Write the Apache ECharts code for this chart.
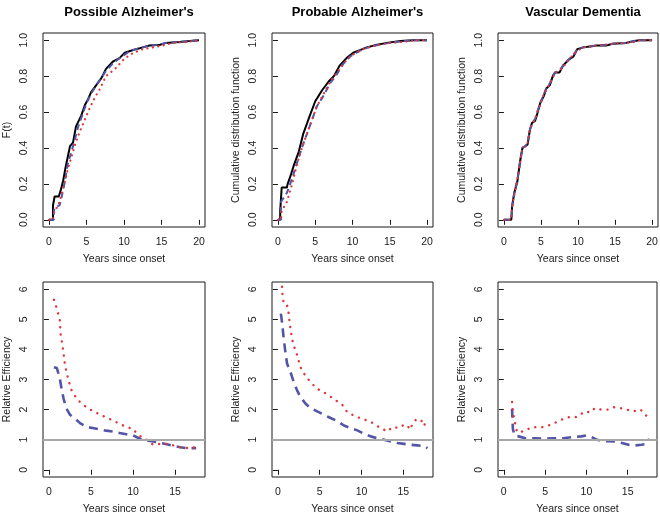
<!DOCTYPE html>
<html>
<head>
<meta charset="utf-8">
<script src="https://cdn.jsdelivr.net/npm/echarts@6/dist/echarts.min.js"></script>
<style>html,body{margin:0;padding:0;background:#fff}#c{width:660px;height:516px}</style>
</head>
<body>
<div id="c"></div>
<script>
// ---------- data ----------
const panelTitles = ["Possible Alzheimer's", "Probable Alzheimer's", "Vascular Dementia"];
const topYNames = ["F(t)", "Cumulative distribution function", "Cumulative distribution function"];
const bottomYName = "Relative Efficiency";
const xName = "Years since onset";
const topXTicks = [0, 5, 10, 15, 20];
const topYTicks = [0, 0.2, 0.4, 0.6, 0.8, 1.0];
const botXTicks = [0, 5, 10, 15];
const botYTicks = [0, 1, 2, 3, 4, 5, 6];
const refLine = 1;

// Possible Alzheimer's - CDF
const possBlack = [[0,0],[0.53,0],[0.53,0.08],[0.75,0.08],[0.75,0.13],[1.3,0.13],[1.6,0.17],[1.9,0.22],[2.2,0.29],[2.5,0.35],[2.8,0.41],[3.2,0.43],[3.6,0.52],[4.3,0.58],[4.8,0.64],[5.2,0.67],[5.6,0.71],[6.3,0.75],[7.0,0.79],[7.6,0.84],[8.5,0.88],[9.4,0.90],[10.1,0.93],[10.8,0.94],[11.6,0.95],[12.5,0.96],[13.4,0.97],[14.8,0.975],[15.6,0.985],[17.4,0.99],[18.8,0.995],[20,1.0]];
const possBlue = [[0,0],[0.65,0],[0.65,0.05],[0.8,0.07],[1.4,0.08],[1.6,0.11],[2.1,0.21],[2.5,0.31],[3.0,0.38],[3.4,0.44],[3.9,0.52],[4.5,0.59],[5.0,0.65],[5.6,0.70],[6.3,0.75],[7.0,0.79],[7.6,0.83],[8.5,0.87],[9.4,0.90],[10.1,0.92],[10.8,0.94],[11.6,0.95],[12.5,0.96],[13.4,0.97],[14.8,0.975],[15.6,0.985],[17.4,0.99],[18.8,0.995],[20,1.0]];
const possRed = [[0,0],[0.5,0],[0.75,0.055],[1.2,0.075],[1.6,0.13],[2.1,0.21],[2.5,0.28],[3.0,0.35],[3.4,0.41],[4.1,0.49],[4.8,0.56],[5.4,0.62],[6.1,0.68],[6.8,0.73],[7.6,0.80],[8.8,0.84],[9.9,0.89],[10.8,0.92],[11.6,0.935],[12.5,0.95],[13.9,0.96],[15.2,0.97],[16.5,0.985],[18.3,0.99],[20,1.0]];

// Probable Alzheimer's - CDF
const probBlack = [[0,0],[0.3,0],[0.3,0.05],[0.5,0.05],[0.5,0.18],[1.2,0.18],[1.3,0.20],[1.65,0.24],[2.1,0.30],[2.8,0.38],[3.4,0.48],[4.1,0.56],[5.0,0.66],[5.9,0.72],[6.8,0.77],[7.5,0.80],[8.3,0.86],[9.2,0.90],[10.1,0.93],[11.0,0.945],[11.9,0.96],[13.3,0.975],[14.6,0.985],[16.4,0.995],[18.2,1.0],[20,1.0]];
const probBlue = [[0,0],[0.4,0],[0.4,0.10],[1.2,0.15],[1.9,0.23],[2.5,0.31],[3.2,0.40],[3.9,0.48],[4.6,0.56],[5.2,0.63],[6.1,0.69],[7.0,0.76],[7.9,0.81],[8.8,0.87],[9.7,0.91],[10.5,0.93],[11.4,0.95],[12.5,0.965],[13.6,0.975],[15.0,0.985],[16.8,0.995],[18.5,1.0],[20,1.0]];
const probRed = [[0,0],[0.4,0],[0.5,0.05],[1.2,0.10],[1.9,0.20],[2.5,0.30],[3.2,0.40],[3.9,0.48],[4.6,0.56],[5.2,0.63],[6.1,0.70],[7.0,0.77],[7.9,0.82],[8.8,0.87],[9.7,0.91],[10.5,0.93],[11.4,0.95],[12.5,0.965],[13.6,0.975],[15.0,0.985],[16.8,0.99],[18.5,1.0],[20,1.0]];

// Vascular Dementia - CDF
const vascBlack = [[0,0],[1.0,0],[1.1,0.075],[1.4,0.15],[1.8,0.21],[2.2,0.33],[2.5,0.40],[2.9,0.41],[3.2,0.42],[3.5,0.50],[3.8,0.54],[4.2,0.55],[4.5,0.59],[4.9,0.65],[5.4,0.69],[5.7,0.73],[6.2,0.75],[6.6,0.80],[6.9,0.82],[7.5,0.82],[8.0,0.86],[8.7,0.89],[9.4,0.91],[9.9,0.95],[10.7,0.96],[11.6,0.965],[12.5,0.97],[13.8,0.97],[14.7,0.98],[16.5,0.985],[17.6,0.995],[18.3,1.0],[20,1.0]];
const vascBlue = [[0,0],[1.0,0],[1.1,0.07],[1.4,0.15],[1.8,0.22],[2.2,0.33],[2.5,0.40],[2.9,0.41],[3.2,0.43],[3.5,0.50],[3.8,0.54],[4.2,0.56],[4.5,0.60],[4.9,0.65],[5.4,0.70],[5.7,0.73],[6.2,0.76],[6.6,0.80],[6.9,0.82],[7.5,0.83],[8.0,0.86],[8.7,0.89],[9.4,0.92],[9.9,0.95],[10.7,0.96],[11.6,0.965],[12.5,0.97],[13.8,0.975],[14.7,0.98],[16.5,0.985],[17.6,0.995],[18.3,1.0],[20,1.0]];
const vascRed = [[0,0],[1.0,0],[1.1,0.07],[1.4,0.14],[1.8,0.22],[2.2,0.32],[2.5,0.40],[2.9,0.41],[3.2,0.43],[3.5,0.50],[3.8,0.53],[4.2,0.56],[4.5,0.60],[4.9,0.64],[5.4,0.70],[5.7,0.72],[6.2,0.76],[6.6,0.79],[6.9,0.82],[7.5,0.83],[8.0,0.85],[8.7,0.89],[9.4,0.92],[9.9,0.94],[10.7,0.96],[11.6,0.965],[12.5,0.97],[13.8,0.975],[14.7,0.98],[16.5,0.985],[17.6,0.99],[18.3,1.0],[20,1.0]];

// Relative efficiency
const possEffBlue = [[0.6,3.41],[0.95,3.38],[1.3,3.03],[1.5,2.7],[1.75,2.36],[2.1,2.03],[2.5,1.83],[3.1,1.7],[3.7,1.55],[4.5,1.42],[5.2,1.39],[6.0,1.34],[6.8,1.3],[7.6,1.27],[8.4,1.22],[9.2,1.18],[10.0,1.14],[10.4,1.09],[11.0,1.01],[11.6,0.98],[12.4,0.94],[13.2,0.9],[14.0,0.85],[14.8,0.79],[15.6,0.75],[16.3,0.72],[17.5,0.72]];
const possEffRed = [[0.6,5.65],[0.9,5.4],[1.1,5.2],[1.3,4.97],[1.4,4.5],[1.7,3.97],[1.9,3.5],[2.1,3.25],[2.3,3.0],[2.7,2.64],[3.3,2.36],[3.9,2.2],[4.7,2.03],[5.5,1.92],[6.3,1.8],[6.9,1.73],[7.6,1.64],[8.4,1.53],[9.2,1.42],[10.0,1.36],[10.4,1.22],[11.0,1.09],[11.6,1.0],[12.4,0.83],[13.2,0.86],[14.0,0.86],[14.8,0.81],[15.6,0.75],[16.3,0.72],[17.1,0.75],[17.5,0.72]];
const probEffBlue = [[0.36,5.19],[0.5,4.9],[0.7,4.36],[0.9,3.91],[1.1,3.53],[1.5,3.25],[1.9,2.92],[2.3,2.64],[2.7,2.42],[3.3,2.2],[3.9,2.05],[4.7,1.94],[5.5,1.83],[6.3,1.72],[7.1,1.62],[7.9,1.47],[8.7,1.39],[9.5,1.31],[10.3,1.2],[11.1,1.11],[11.9,1.05],[12.7,1.0],[13.5,0.94],[14.3,0.89],[15.1,0.86],[15.9,0.83],[16.7,0.81],[17.5,0.79],[17.9,0.72]];
const probEffRed = [[0.5,6.08],[0.55,5.8],[0.7,5.52],[1.1,5.47],[1.3,5.19],[1.4,4.9],[1.6,4.52],[1.8,4.22],[2.1,3.97],[2.4,3.75],[2.6,3.47],[3.0,3.25],[3.5,3.05],[4.1,2.86],[4.7,2.69],[5.5,2.58],[6.1,2.47],[6.9,2.31],[7.7,2.16],[8.3,1.92],[8.9,1.83],[9.5,1.75],[10.3,1.67],[10.9,1.62],[11.5,1.53],[12.1,1.42],[12.7,1.33],[13.1,1.27],[13.7,1.42],[14.5,1.39],[15.1,1.5],[15.5,1.47],[15.8,1.33],[16.1,1.53],[16.5,1.66],[17.1,1.59],[17.3,1.67],[17.6,1.47]];
const vascEffBlue = [[1.0,2.03],[1.1,1.36],[1.3,1.14],[1.8,1.11],[2.6,1.05],[3.6,1.05],[4.8,1.03],[6.0,1.05],[7.2,1.05],[8.4,1.09],[9.4,1.11],[10.0,1.14],[10.6,1.09],[11.2,1.01],[12.0,0.95],[12.7,0.95],[13.5,0.94],[14.3,0.89],[15.1,0.83],[15.9,0.81],[16.7,0.83],[17.3,0.86],[17.6,1.03]];
const vascEffRed = [[1.0,2.25],[1.1,1.92],[1.3,1.64],[1.6,1.25],[2.2,1.27],[2.8,1.34],[3.6,1.42],[4.4,1.4],[5.2,1.45],[6.0,1.53],[6.8,1.64],[7.5,1.73],[8.2,1.76],[8.8,1.75],[9.4,1.86],[9.8,1.94],[10.2,1.92],[10.6,1.92],[11.0,2.05],[11.8,2.0],[12.6,2.0],[13.3,2.08],[14.1,2.05],[14.9,2.0],[15.7,1.94],[16.5,2.01],[17.1,1.86],[17.5,1.7]];

// ---------- layout / style ----------
const FONT = 'Liberation Sans, Arial, Helvetica, sans-serif';
const INK = '#1a1a1a';
const BLUE = '#5356a8';
const RED = '#e0353a';
const boxes = [
  {left:43, top:33, width:162, height:194},
  {left:272, top:33, width:161, height:194},
  {left:498, top:33, width:160, height:194},
  {left:43, top:282, width:162, height:195},
  {left:272, top:282, width:161, height:195},
  {left:498, top:282, width:159, height:195}
];
const topXRange = [-0.8, 20.8], topYRange = [-0.04, 1.04];
const botXRange = [-0.7, 18.55], botYRange = [-0.24, 6.24];

const grids = boxes.map(b => Object.assign({show:true, borderColor:INK, borderWidth:1, backgroundColor:'transparent', outerBoundsMode:'none'}, b));

function xAxisFor(i, range, ticks) {
  return {
    type:'value', gridIndex:i, min:range[0], max:range[1],
    axisLine:{show:false}, splitLine:{show:false},
    axisTick:{show:true, length:5, customValues:ticks, lineStyle:{color:INK, width:1}},
    axisLabel:{customValues:ticks, margin:10, fontSize:10.5, color:INK, fontFamily:FONT},
    name:xName, nameLocation:'middle', nameGap:27,
    nameTextStyle:{fontSize:10.5, color:INK, fontFamily:FONT}
  };
}
function yAxisFor(i, range, ticks, name, dec) {
  return {
    type:'value', gridIndex:i, min:range[0], max:range[1],
    axisLine:{show:false}, splitLine:{show:false},
    axisTick:{show:true, length:5, customValues:ticks, lineStyle:{color:INK, width:1}},
    axisLabel:{customValues:ticks, rotate:90, margin:13, fontSize:10.5, color:INK, fontFamily:FONT,
      formatter: v => Number(v).toFixed(dec)},
    name:name, nameLocation:'middle', nameGap:30, nameRotate:90,
    nameTextStyle:{fontSize:10.5, color:INK, fontFamily:FONT}
  };
}

const xAxes = [], yAxes = [];
for (let i = 0; i < 3; i++) {
  xAxes.push(xAxisFor(i, topXRange, topXTicks));
  yAxes.push(yAxisFor(i, topYRange, topYTicks, topYNames[i], 1));
}
for (let i = 3; i < 6; i++) {
  xAxes.push(xAxisFor(i, botXRange, botXTicks));
  yAxes.push(yAxisFor(i, botYRange, botYTicks, bottomYName, 0));
}

function line(i, data, color, width, type, extra) {
  return Object.assign({
    type:'line', xAxisIndex:i, yAxisIndex:i, data:data, showSymbol:false, symbol:'none',
    silent:true, clip:true,
    lineStyle:{color:color, width:width, type:type, cap: Array.isArray(type) && type[0] < 1 ? 'round' : 'butt'}
  }, extra || {});
}

const abline = {markLine:{silent:true, symbol:'none', label:{show:false},
  lineStyle:{color:'#a8a8a8', width:2, type:'solid'}, data:[{yAxis:refLine}], animation:false}};

const series = [
  line(0, possBlack, '#000', 2, 'solid'),
  line(0, possBlue, BLUE, 2, [6,4]),
  line(0, possRed, RED, 2.2, [0.1,5.4]),
  line(1, probBlack, '#000', 2, 'solid'),
  line(1, probBlue, BLUE, 2, [6,4]),
  line(1, probRed, RED, 2.2, [0.1,5.4]),
  line(2, vascBlack, '#000', 2, 'solid'),
  line(2, vascBlue, BLUE, 2, [6,4]),
  line(2, vascRed, RED, 2.2, [0.1,5.4]),
  line(3, possEffBlue, BLUE, 2.6, [9,6]),
  line(3, possEffRed, RED, 2.4, [0.1,7]),
  line(3, [], '#a8a8a8', 2, 'solid', abline),
  line(4, probEffBlue, BLUE, 2.6, [9,6]),
  line(4, probEffRed, RED, 2.4, [0.1,7]),
  line(4, [], '#a8a8a8', 2, 'solid', abline),
  line(5, vascEffBlue, BLUE, 2.6, [9,6]),
  line(5, vascEffRed, RED, 2.4, [0.1,7]),
  line(5, [], '#a8a8a8', 2, 'solid', abline)
];

const titles = panelTitles.map((t, i) => ({
  text:t, left: boxes[i].left + boxes[i].width / 2, top:1, textAlign:'center',
  textStyle:{fontSize:13, fontWeight:'bold', color:'#000', fontFamily:FONT}
}));

const chart = echarts.init(document.getElementById('c'), null, {renderer:'canvas'});
chart.setOption({
  animation:false,
  backgroundColor:'#fff',
  title:titles,
  grid:grids,
  xAxis:xAxes,
  yAxis:yAxes,
  tooltip:{show:false},
  series:series
});
</script>
</body>
</html>
